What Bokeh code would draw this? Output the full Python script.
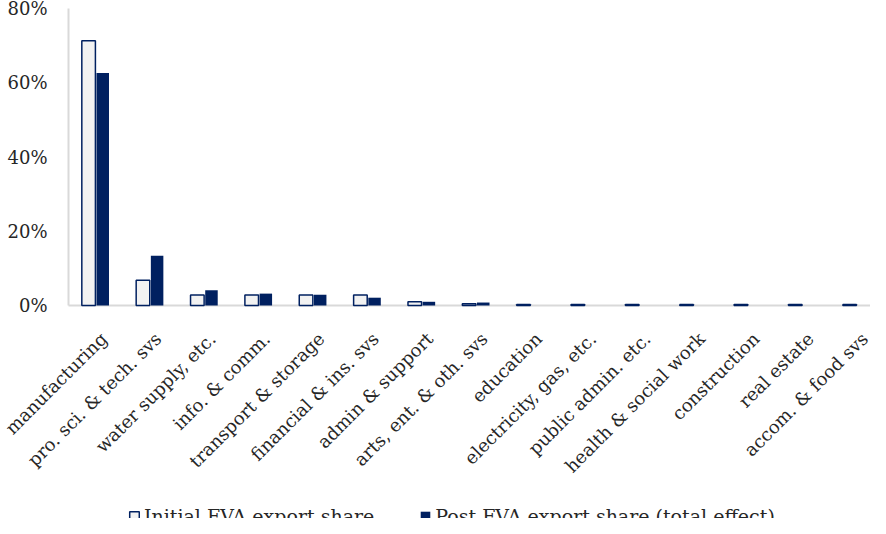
import math
from bokeh.plotting import figure
from bokeh.models import ColumnDataSource, Range1d, Legend, LegendItem
from bokeh.core.properties import value
from bokeh.transform import dodge
from bokeh.embed import file_html
from bokeh.resources import INLINE

sectors = ["manufacturing", "pro. sci. & tech. svs", "water supply, etc.", "info. & comm.",
           "transport & storage", "financial & ins. svs", "admin & support",
           "arts, ent. & oth. svs", "education", "electricity, gas, etc.",
           "public admin. etc.", "health & social work", "construction", "real estate",
           "accom. & food svs"]
initial_share = [71.3, 6.8, 2.8, 2.8, 2.8, 2.8, 1.0, 0.5, 0.3, 0.3, 0.3, 0.3, 0.3, 0.3, 0.3]
post_share = [62.6, 13.4, 4.1, 3.2, 2.9, 2.1, 1.0, 0.8, 0.0, 0.0, 0.0, 0.0, 0.0, 0.0, 0.0]
y_ticks = [0, 20, 40, 60, 80]
y_tick_labels = ["0%", "20%", "40%", "60%", "80%"]
legend_labels = ["Initial FVA export share", "Post FVA export share (total effect)"]

NAVY = "#002060"
GRID = "#D9D9D9"
FONT = "DejaVu Serif"
TXT = "#262626"
FS = "18px"
LFS = "19px"

# layout constants (pixels)
W, H = 870, 518
AXIS_LEFT_PX = 68         # where the value axis sits
AXIS_TOP_PX = 8           # where 80% sits
CAT_PX = 54.36            # width of one category
AXIS_PX = 297.0           # height from 0% to 80%
Y_MAX = 80

n = len(sectors)
idx = list(range(n))
x_start = -0.5 - AXIS_LEFT_PX / CAT_PX
x_end = x_start + W / CAT_PX
y_end = Y_MAX + AXIS_TOP_PX * Y_MAX / AXIS_PX
y_start = y_end - H * Y_MAX / AXIS_PX

src = ColumnDataSource(dict(idx=idx, sector=sectors, initial=initial_share, post=post_share))
ysrc = ColumnDataSource(dict(tick=y_ticks, label=y_tick_labels))

p = figure(x_range=Range1d(x_start, x_end), y_range=Range1d(y_start, y_end),
           width=W, height=H, output_backend="svg", toolbar_location=None,
           x_axis_location=None, y_axis_location=None, min_border=0,
           min_border_left=0, min_border_top=0, min_border_right=0, min_border_bottom=0)

# axis lines (from the range bounds)
p.segment(x0=[-0.5], y0=[0], x1=[x_end], y1=[0], line_color=GRID, line_width=2)
p.segment(x0=[-0.5], y0=[0], x1=[-0.5], y1=[Y_MAX], line_color=GRID, line_width=2)

r1 = p.vbar(x=dodge("idx", -0.13), top="initial", width=0.25,
            source=src, fill_color="#F2F2F2", line_color=NAVY, line_width=1.5)
r2 = p.vbar(x=dodge("idx", 0.13), top="post", width=0.23,
            source=src, fill_color=NAVY, line_color=None)

# rotated category labels
p.text(x="idx", y=0, text="sector", source=src, angle=math.pi / 4,
       text_align="right", text_baseline="middle", x_offset=8, y_offset=30,
       text_font=value(FONT), text_font_size=value(FS), text_color=TXT)

# value axis labels
p.text(x=-0.5, y="tick", text="label", source=ysrc,
       text_align="right", text_baseline="middle", x_offset=-21,
       text_font=value(FONT), text_font_size=value(FS), text_color=TXT)

p.xgrid.visible = False
p.ygrid.visible = False
p.outline_line_color = None
p.background_fill_color = "white"
p.border_fill_color = "white"

legend = Legend(items=[LegendItem(label=legend_labels[0], renderers=[r1]),
                       LegendItem(label=legend_labels[1], renderers=[r2])],
                orientation="horizontal", location=(128, -9))
legend.label_text_font = FONT
legend.label_text_font_size = LFS
legend.label_text_color = TXT
legend.glyph_width = 12
legend.glyph_height = 12
legend.spacing = 45
legend.label_standoff = 4
legend.border_line_color = None
legend.background_fill_alpha = 0
legend.margin = 0
legend.padding = 0
p.add_layout(legend, "center")

open("out.html", "w").write(file_html(p, INLINE))
